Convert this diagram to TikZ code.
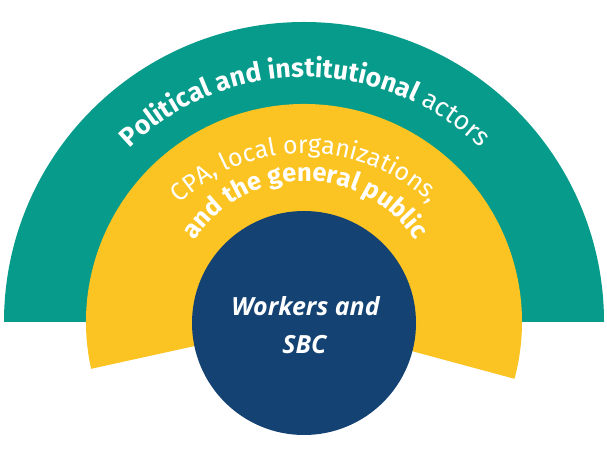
\documentclass[tikz,border=0pt]{standalone}
\usepackage{fontspec}
\setmainfont{Fira Sans}
\newfontfamily\centerfont{Open Sans}
\usetikzlibrary{decorations.text}
\definecolor{ringgreen}{RGB}{6,155,138}
\definecolor{ringyellow}{RGB}{251,196,34}
\definecolor{coreblue}{RGB}{20,67,115}
\tikzset{
  arclabel/.style={decorate,decoration={text along path,text align=center,text color=white,text={#1}}},
  corelabel/.style={anchor=base,text=white,inner sep=0pt,font=\centerfont\bfseries\itshape\fontsize{25}{30}\selectfont}
}
\begin{document}
\begin{tikzpicture}[x=1pt,y=1pt]
\useasboundingbox (0,0) rectangle (607,455);
% outer green half disc
\fill[ringgreen] (4,133) arc[start angle=180,end angle=0,radius=300] -- cycle;
% yellow sector
\fill[ringyellow] (304,133) -- ([shift={(304,133)}]192.4:218) arc[start angle=192.4,end angle=-15.1,radius=218] -- cycle;
% blue core
\node[circle,fill=coreblue,minimum size=224pt,inner sep=0pt] (core) at (304,132) {};
\node[corelabel] (w1) at (305.5,139) {Workers and};
\node[corelabel] (w2) at (304.5,102) {SBC};
% arc texts
\path[arclabel={|\fontsize{26.5}{26}\selectfont\bfseries|Political and institutional |\fontsize{26.5}{26}\selectfont\mdseries|actors}]
  ([shift={(305,127)}]165:251) arc[start angle=165,end angle=15,radius=251];
\path[arclabel={|\fontsize{25}{25}\selectfont\mdseries|CPA, local organizations,}]
  ([shift={(305,122)}]165:180) arc[start angle=165,end angle=15,radius=180];
\path[arclabel={|\fontsize{25.5}{25}\selectfont\bfseries|and the general public}]
  ([shift={(305,142)}]185:132) arc[start angle=185,end angle=-5,radius=132];
\end{tikzpicture}
\end{document}
